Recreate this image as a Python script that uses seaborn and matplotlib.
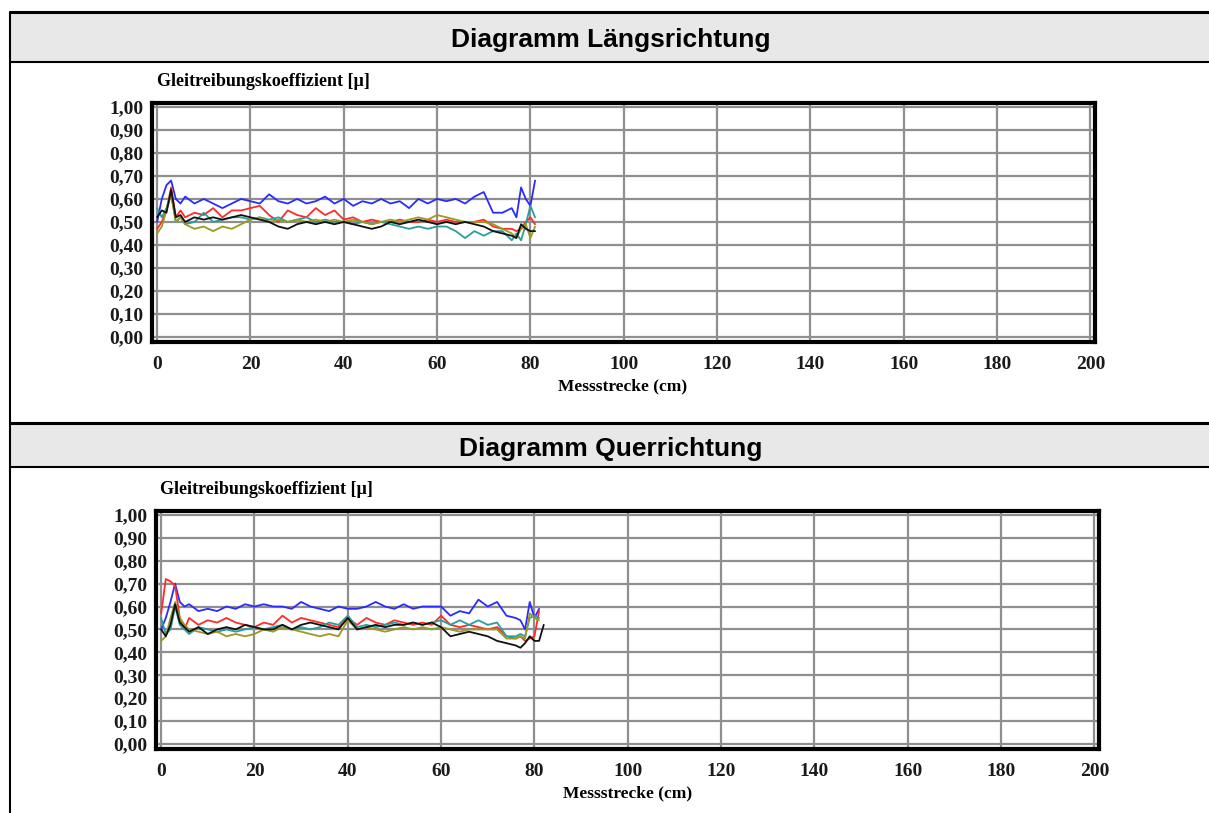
import numpy as np
import pandas as pd
import seaborn as sns
import matplotlib.pyplot as plt
from matplotlib.lines import Line2D
from matplotlib.patches import Rectangle
from matplotlib.ticker import FuncFormatter, MultipleLocator

# Messstrecke (cm) - Laengsrichtung
x_laengs = [0, 1, 2, 3, 4, 5, 6,
            8, 10, 12, 14, 16, 18, 20, 22, 24, 26, 28, 30, 32, 34, 36, 38, 40, 42, 44, 46,
            48, 50, 52, 54, 56, 58, 60, 62, 64, 66, 68, 70, 72, 74, 76,
            77, 78, 79, 80, 81]
blau_laengs = [0.50, 0.60, 0.66, 0.68, 0.60, 0.58, 0.61,
               0.58, 0.60, 0.58, 0.56, 0.58, 0.60, 0.59, 0.58, 0.62, 0.59, 0.58, 0.60, 0.58, 0.59, 0.61, 0.58, 0.60, 0.57, 0.59, 0.58,
               0.60, 0.58, 0.59, 0.56, 0.60, 0.58, 0.60, 0.59, 0.60, 0.58, 0.61, 0.63, 0.54, 0.54, 0.56,
               0.52, 0.65, 0.60, 0.57, 0.68]
rot_laengs = [0.47, 0.50, 0.55, 0.65, 0.52, 0.55, 0.52,
              0.54, 0.53, 0.56, 0.52, 0.55, 0.55, 0.56, 0.57, 0.53, 0.50, 0.55, 0.53, 0.52, 0.56, 0.53, 0.55, 0.51, 0.52, 0.50, 0.51,
              0.50, 0.50, 0.51, 0.50, 0.50, 0.51, 0.50, 0.51, 0.50, 0.50, 0.50, 0.51, 0.48, 0.47, 0.47,
              0.46, 0.47, 0.50, 0.52, 0.49]
tuerkis_laengs = [0.56, 0.52, 0.56, 0.62, 0.50, 0.52, 0.49,
                  0.50, 0.54, 0.50, 0.51, 0.52, 0.52, 0.51, 0.52, 0.51, 0.52, 0.50, 0.51, 0.52, 0.50, 0.51, 0.50, 0.50, 0.49, 0.50, 0.49,
                  0.50, 0.49, 0.48, 0.47, 0.48, 0.47, 0.48, 0.48, 0.46, 0.43, 0.46, 0.44, 0.46, 0.46, 0.42,
                  0.45, 0.42, 0.49, 0.57, 0.52]
oliv_laengs = [0.45, 0.48, 0.55, 0.62, 0.50, 0.52, 0.49,
               0.47, 0.48, 0.46, 0.48, 0.47, 0.49, 0.51, 0.52, 0.50, 0.51, 0.50, 0.51, 0.50, 0.51, 0.50, 0.51, 0.50, 0.51, 0.50, 0.49,
               0.50, 0.51, 0.50, 0.51, 0.52, 0.51, 0.53, 0.52, 0.51, 0.50, 0.50, 0.50, 0.49, 0.47, 0.45,
               0.43, 0.47, 0.49, 0.43, 0.48]
schwarz_laengs = [0.52, 0.55, 0.54, 0.64, 0.52, 0.53, 0.50,
                  0.52, 0.51, 0.52, 0.51, 0.52, 0.53, 0.52, 0.51, 0.50, 0.48, 0.47, 0.49, 0.50, 0.49, 0.50, 0.49, 0.50, 0.49, 0.48, 0.47,
                  0.48, 0.50, 0.49, 0.50, 0.51, 0.50, 0.49, 0.50, 0.49, 0.50, 0.49, 0.48, 0.46, 0.45, 0.44,
                  0.43, 0.49, 0.47, 0.46, 0.46]

# Messstrecke (cm) - Querrichtung
x_quer = [0, 1, 2, 3, 4, 5, 6,
          8, 10, 12, 14, 16, 18, 20, 22, 24, 26, 28, 30, 32, 34, 36, 38, 40, 42, 44, 46,
          48, 50, 52, 54, 56, 58, 60, 62, 64, 66, 68, 70, 72, 74, 76,
          77, 78, 79, 80, 81, 82]
blau_quer = [0.50, 0.55, 0.62, 0.70, 0.62, 0.60, 0.61,
             0.58, 0.59, 0.58, 0.60, 0.59, 0.61, 0.60, 0.61, 0.60, 0.60, 0.59, 0.62, 0.60, 0.59, 0.58, 0.60, 0.59, 0.59, 0.60, 0.62,
             0.60, 0.59, 0.61, 0.59, 0.60, 0.60, 0.60, 0.56, 0.58, 0.57, 0.63, 0.60, 0.62, 0.56, 0.55,
             0.54, 0.50, 0.62, 0.55, 0.59, np.nan]
rot_quer = [0.57, 0.72, 0.71, 0.69, 0.55, 0.50, 0.55,
            0.52, 0.54, 0.53, 0.55, 0.53, 0.52, 0.51, 0.53, 0.52, 0.56, 0.53, 0.55, 0.54, 0.53, 0.52, 0.51, 0.55, 0.52, 0.55, 0.53,
            0.52, 0.54, 0.53, 0.52, 0.53, 0.52, 0.56, 0.52, 0.51, 0.52, 0.51, 0.50, 0.51, 0.47, 0.46,
            0.47, 0.45, 0.46, 0.47, 0.58, np.nan]
tuerkis_quer = [0.55, 0.48, 0.50, 0.60, 0.52, 0.50, 0.48,
                0.51, 0.50, 0.49, 0.50, 0.49, 0.50, 0.51, 0.50, 0.51, 0.52, 0.50, 0.51, 0.50, 0.51, 0.53, 0.52, 0.56, 0.51, 0.52, 0.51,
                0.52, 0.53, 0.52, 0.53, 0.52, 0.53, 0.54, 0.52, 0.54, 0.52, 0.54, 0.52, 0.53, 0.47, 0.47,
                0.48, 0.47, 0.55, 0.56, 0.55, np.nan]
oliv_quer = [0.45, 0.47, 0.55, 0.62, 0.55, 0.52, 0.50,
             0.49, 0.48, 0.49, 0.47, 0.48, 0.47, 0.48, 0.50, 0.49, 0.51, 0.50, 0.49, 0.48, 0.47, 0.48, 0.47, 0.54, 0.50, 0.51, 0.50,
             0.49, 0.50, 0.51, 0.50, 0.51, 0.50, 0.51, 0.50, 0.49, 0.50, 0.50, 0.50, 0.50, 0.46, 0.46,
             0.47, 0.46, 0.57, 0.55, 0.54, np.nan]
schwarz_quer = [0.50, 0.47, 0.52, 0.61, 0.53, 0.51, 0.49,
                0.51, 0.48, 0.50, 0.51, 0.50, 0.52, 0.51, 0.50, 0.50, 0.52, 0.50, 0.52, 0.53, 0.52, 0.51, 0.50, 0.55, 0.50, 0.51, 0.52,
                0.51, 0.52, 0.52, 0.53, 0.52, 0.53, 0.51, 0.47, 0.48, 0.49, 0.48, 0.47, 0.45, 0.44, 0.43,
                0.42, 0.44, 0.47, 0.45, 0.45, 0.52]

farben = {"blau": "#2b2bff", "rot": "#ff2b2b", "tuerkis": "#2a9d9d",
          "oliv": "#9a9a22", "schwarz": "#111111"}

sns.set_style("white")
plt.rcParams['font.family'] = ['Liberation Serif', 'DejaVu Serif']
plt.rcParams['text.color'] = 'black'

W, H = 1209, 813
fig = plt.figure(figsize=(W / 100, H / 100), dpi=100)


def fx(px):
    return px / W


def fy(py):
    return 1 - py / H


# Tabellenrahmen und Kopfzeilen
for top, bot, titel in [(12, 62, "Diagramm Längsrichtung"), (423, 467, "Diagramm Querrichtung")]:
    fig.patches.append(Rectangle((fx(10), fy(bot)), fx(W) - fx(10), fy(top) - fy(bot),
                                 transform=fig.transFigure, facecolor="#e8e8e8", edgecolor="none"))
    fig.text(fx(611), fy((top + bot) / 2 + 3.5), titel, ha="center", va="center", color="black",
             fontsize=19, fontweight="bold", family=["Liberation Sans", "DejaVu Sans"])
for py, lw in [(12, 2.2), (62, 1.5), (423, 2.2), (467, 1.5)]:
    fig.add_artist(Line2D([fx(10), 1], [fy(py), fy(py)], color="black", lw=lw,
                          transform=fig.transFigure))
fig.add_artist(Line2D([fx(10), fx(10)], [fy(12), 0], color="black", lw=1.5,
                      transform=fig.transFigure))


def zeichne(ax_box, x, serien, ylabel_pos, xlabel_pos):
    left, top, right, bot = ax_box
    ax = fig.add_axes([fx(left), fy(bot), fx(right) - fx(left), fy(top) - fy(bot)])
    rows = []
    for name, werte in serien.items():
        rows.append(pd.DataFrame({"x": x, "mu": werte, "serie": name}))
    df = pd.concat(rows, ignore_index=True)
    sns.lineplot(data=df, x="x", y="mu", hue="serie", palette=farben, estimator=None,
                 sort=False, legend=False, linewidth=1.3, ax=ax)
    ax.set_xlim(-1.1, 201.0)
    ax.set_ylim(-0.022, 1.017)
    ax.xaxis.set_major_locator(MultipleLocator(20))
    ax.yaxis.set_major_locator(MultipleLocator(0.1))
    ax.yaxis.set_major_formatter(FuncFormatter(lambda v, p: f"{v:.2f}".replace(".", ",")))
    ax.grid(True, color="#8f8f8f", linewidth=1.6, zorder=0)
    ax.set_axisbelow(True)
    for s in ax.spines.values():
        s.set_visible(True)
        s.set_color("black")
        s.set_linewidth(3)
    ax.tick_params(length=0, labelsize=14, colors="#1a1a1a")
    ax.tick_params(axis="y", pad=6)
    ax.tick_params(axis="x", pad=10)
    for lab in ax.get_xticklabels() + ax.get_yticklabels():
        lab.set_fontweight("bold")
    ax.set_xlabel("")
    ax.set_ylabel("")
    fig.text(fx(ylabel_pos[0]), fy(ylabel_pos[1]), "Gleitreibungskoeffizient [µ]",
             ha="left", va="center", fontsize=13, fontweight="bold", color="black")
    fig.text(fx(xlabel_pos[0]), fy(xlabel_pos[1]), "Messstrecke (cm)",
             ha="center", va="center", fontsize=12.5, fontweight="bold", color="black")
    return ax


zeichne((152, 103, 1095, 342), x_laengs,
        {"blau": blau_laengs, "rot": rot_laengs, "tuerkis": tuerkis_laengs,
         "oliv": oliv_laengs, "schwarz": schwarz_laengs},
        (157, 82), (623, 386))
zeichne((156, 511, 1099, 749), x_quer,
        {"blau": blau_quer, "rot": rot_quer, "tuerkis": tuerkis_quer,
         "oliv": oliv_quer, "schwarz": schwarz_quer},
        (160, 489), (628, 793))

fig.savefig("out.png", dpi=100)
